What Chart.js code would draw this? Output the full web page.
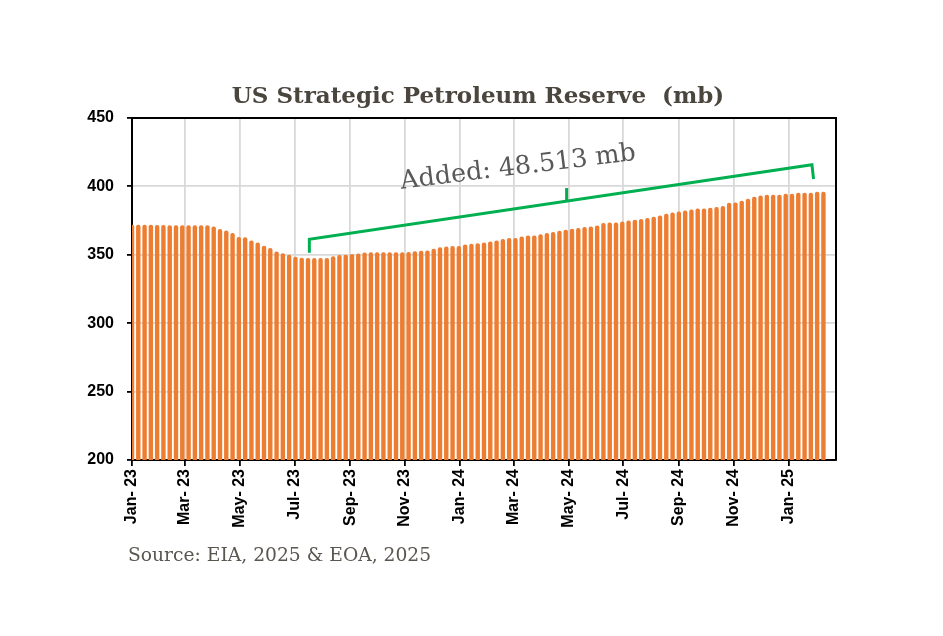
<!DOCTYPE html>
<html>
<head>
<meta charset="utf-8">
<title>US Strategic Petroleum Reserve</title>
<script src="https://cdn.jsdelivr.net/npm/chart.js@4.4.1/dist/chart.umd.min.js"></script>
<style>
    html, body { margin: 0; padding: 0; background: #fff; }
    #wrap { width: 943px; height: 636px; }
</style>
</head>
<body>
<div id="wrap"><canvas id="sprChart" width="943" height="636"></canvas></div>
<script>
// Weekly SPR stocks in million barrels, one bar per week from the first week on
const firstWeek = '2023-01-06';
const axisEnd = '2025-02-28';
const sprStocks = [
    372.0, 372.0, 372.0, 371.9, 371.8, 371.7, 371.6, 371.6, 371.6, 371.6, 371.6, 371.6, 371.6,
    370.7, 368.8, 367.8, 365.9, 363.0, 362.8, 360.5, 359.0, 356.6, 354.9, 352.4, 351.2, 350.0,
    348.5, 347.8, 347.6, 347.6, 347.6, 347.7, 349.0, 349.8, 350.0, 350.5, 350.9, 351.6, 351.8,
    351.8, 351.8, 351.8, 351.8, 351.8, 352.0, 352.6, 353.0, 353.2, 354.5, 355.6, 356.0, 356.4,
    356.5, 357.5, 358.0, 358.5, 359.0, 359.7, 360.5, 361.5, 362.2, 362.2, 363.4, 364.1, 364.1,
    365.1, 365.9, 366.6, 367.6, 368.3, 369.0, 369.5, 370.3, 370.7, 371.4, 373.2, 373.6, 373.6,
    374.4, 375.1, 375.6, 376.1, 376.9, 377.8, 378.8, 380.0, 381.0, 381.7, 382.4, 383.2, 383.9,
    383.9, 384.4, 384.9, 385.6, 388.1, 388.3, 389.5, 391.0, 392.5, 393.4, 393.9, 393.9, 393.9,
    394.7, 394.7, 395.4, 395.4, 395.4, 396.1, 396.1
];

// Axis ticks every two months
const tickDates = [
    '2023-01-06', '2023-03-06', '2023-05-06', '2023-07-06', '2023-09-06', '2023-11-06',
    '2024-01-06', '2024-03-06', '2024-05-06', '2024-07-06', '2024-09-06', '2024-11-06',
    '2025-01-06'
];
const tickLabels = [
    'Jan- 23', 'Mar- 23', 'May- 23', 'Jul- 23', 'Sep- 23', 'Nov- 23',
    'Jan- 24', 'Mar- 24', 'May- 24', 'Jul- 24', 'Sep- 24', 'Nov- 24',
    'Jan- 25'
];
const yTicks = [200, 250, 300, 350, 400, 450];

// Bracket annotation, in axis units (days since first week, mb)
const bracketLeft = { day: 197.5, low: 351.5, high: 361.3 };
const bracketRight = { day: 757.2, high: 415.9, endDay: 759, low: 405.4 };
const bracketMid = { day: 484, top: 398.8 };
const noteText = 'Added: 48.513 mb';
const notePos = { day: 430, value: 413.7 };

const DAY_MS = 86400000;
function dayOf(d) {
    return (Date.parse(d) - Date.parse(firstWeek)) / DAY_MS;
}

const points = sprStocks.map((v, i) => ({ x: i * 7, y: v }));

const tickFont = { family: '"Liberation Sans", Arial, sans-serif', size: 16, weight: 'bold' };

// Frame, bracket, note, title and source
const extrasPlugin = {
    id: 'extras',
    afterDraw(chart) {
        const { ctx, chartArea: a, scales: { x, y } } = chart;
        ctx.save();

        // top and right edges of the plot frame
        ctx.strokeStyle = '#000';
        ctx.lineWidth = 2;
        ctx.beginPath();
        ctx.moveTo(a.left, a.top);
        ctx.lineTo(a.right, a.top);
        ctx.lineTo(a.right, a.bottom);
        ctx.stroke();

        // green bracket
        const lx = x.getPixelForValue(bracketLeft.day);
        const rx = x.getPixelForValue(bracketRight.day);
        const ly = y.getPixelForValue(bracketLeft.high);
        const ry = y.getPixelForValue(bracketRight.high);
        ctx.strokeStyle = '#00B050';
        ctx.lineWidth = 3;
        ctx.lineJoin = 'miter';
        ctx.beginPath();
        ctx.moveTo(lx, y.getPixelForValue(bracketLeft.low));
        ctx.lineTo(lx, ly);
        ctx.lineTo(rx, ry);
        ctx.lineTo(x.getPixelForValue(bracketRight.endDay), y.getPixelForValue(bracketRight.low));
        ctx.stroke();

        const mx = x.getPixelForValue(bracketMid.day);
        const my = ly + (mx - lx) * (ry - ly) / (rx - lx);
        ctx.beginPath();
        ctx.moveTo(mx, my);
        ctx.lineTo(mx, y.getPixelForValue(bracketMid.top));
        ctx.stroke();

        // rotated note
        ctx.save();
        ctx.translate(x.getPixelForValue(notePos.day), y.getPixelForValue(notePos.value));
        ctx.rotate(-7 * Math.PI / 180);
        ctx.fillStyle = '#595959';
        ctx.font = '25.5px "DejaVu Serif", serif';
        ctx.textAlign = 'center';
        ctx.textBaseline = 'middle';
        ctx.fillText(noteText, 0, 0);
        ctx.restore();

        // title
        ctx.fillStyle = '#4A453D';
        ctx.font = 'bold 23px "DejaVu Serif", serif';
        ctx.textAlign = 'center';
        ctx.textBaseline = 'alphabetic';
        ctx.fillText('US Strategic Petroleum Reserve  (mb)', 478, 103);

        // source
        ctx.fillStyle = '#5A5650';
        ctx.font = '18.7px "DejaVu Serif", serif';
        ctx.textAlign = 'left';
        ctx.fillText('Source: EIA, 2025 & EOA, 2025', 128, 561);

        ctx.restore();
    }
};

const ctx = document.getElementById('sprChart').getContext('2d');
const sprChart = new Chart(ctx, {
    type: 'bar',
    data: {
        datasets: [{
            label: 'SPR stocks (mb)',
            data: points,
            backgroundColor: '#ED7D31',
            barPercentage: 0.7,
            categoryPercentage: 1,
            borderRadius: { topLeft: 2, topRight: 2 },
            borderSkipped: 'bottom'
        }]
    },
    options: {
        responsive: false,
        animation: false,
        layout: { padding: { left: 0, right: 107, top: 118, bottom: 0 } },
        plugins: {
            legend: { display: false },
            tooltip: { enabled: false }
        },
        scales: {
            x: {
                type: 'linear',
                min: 0,
                max: dayOf(axisEnd),
                offset: false,
                grid: { color: '#D9D9D9', lineWidth: 1.8, tickColor: '#000', tickLength: 6, offset: false },
                border: { color: '#000', width: 2 },
                afterBuildTicks: scale => {
                    scale.ticks = tickDates.map(d => ({ value: dayOf(d) }));
                },
                afterFit: scale => { scale.height = 176; },
                ticks: {
                    autoSkip: false,
                    minRotation: 90,
                    maxRotation: 90,
                    padding: 3,
                    color: '#000',
                    font: tickFont,
                    callback: (value, index) => tickLabels[index]
                }
            },
            y: {
                min: 200,
                max: 450,
                grid: { color: '#D9D9D9', lineWidth: 1.8, tickColor: '#000', tickLength: 5 },
                border: { color: '#000', width: 2 },
                afterBuildTicks: scale => {
                    scale.ticks = yTicks.map(v => ({ value: v }));
                },
                afterFit: scale => { scale.width = 132; },
                ticks: {
                    padding: 13,
                    color: '#000',
                    font: tickFont
                }
            }
        }
    },
    plugins: [extrasPlugin]
});
</script>
</body>
</html>
